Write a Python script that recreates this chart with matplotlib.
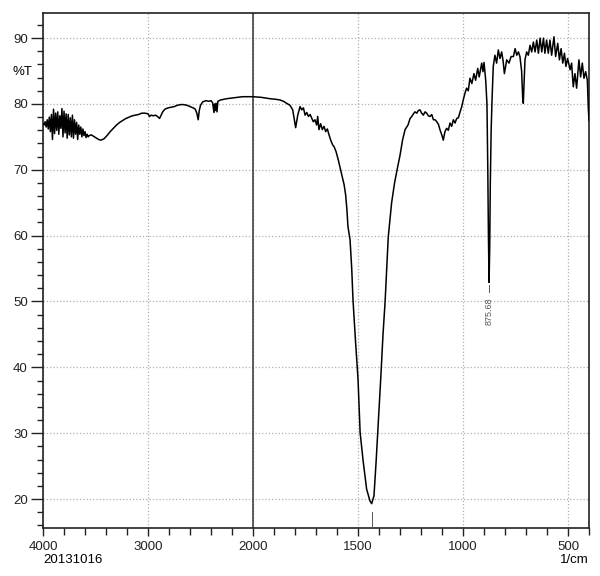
import numpy as np
import matplotlib
matplotlib.use("Agg")
import matplotlib.pyplot as plt
from matplotlib.ticker import FixedLocator, NullFormatter

plt.rcParams['font.family'] = ['Liberation Sans', 'DejaVu Sans']

# FTIR spectrum (wavenumber 1/cm, %T)
wavenumber = [
    4000, 3990, 3980, 3970, 3960, 3950, 3940, 3930, 3920, 3910,
    3900, 3890, 3880, 3870, 3860, 3850, 3840, 3830, 3820, 3810,
    3800, 3790, 3780, 3770, 3760, 3750, 3740, 3730, 3720, 3710,
    3700, 3690, 3680, 3670, 3660, 3650, 3640, 3630, 3620, 3610,
    3600, 3590, 3580, 3570, 3560, 3540, 3520, 3500, 3470, 3450,
    3420, 3390, 3360, 3330, 3300, 3270, 3240, 3210, 3180, 3150,
    3120, 3090, 3060, 3030, 3000, 2985, 2970, 2950, 2930, 2910,
    2890, 2875, 2860, 2840, 2810, 2780, 2750, 2720, 2690, 2660,
    2630, 2600, 2570, 2550, 2535, 2522, 2512, 2500, 2480, 2450,
    2420, 2400, 2385, 2372, 2366, 2360, 2352, 2343, 2335, 2310,
    2280, 2250, 2200, 2150, 2100, 2050, 2000, 1960, 1920, 1890,
    1871, 1855, 1840, 1824, 1811, 1797, 1787, 1776, 1768, 1760,
    1752, 1744, 1736, 1728, 1720, 1713, 1705, 1697, 1692, 1686,
    1678, 1670, 1662, 1654, 1646, 1638, 1630, 1621, 1614, 1605,
    1594, 1583, 1573, 1566, 1559, 1553, 1548, 1538, 1530, 1524,
    1512, 1500, 1490, 1475, 1459, 1443, 1435, 1424, 1414, 1406,
    1392, 1381, 1371, 1356, 1340, 1326, 1314, 1300, 1288, 1276,
    1262, 1252, 1244, 1236, 1229, 1220, 1213, 1205, 1197, 1189,
    1181, 1173, 1165, 1157, 1149, 1141, 1133, 1125, 1117, 1110,
    1100, 1094, 1086, 1078, 1070, 1062, 1054, 1046, 1038, 1030,
    1022, 1014, 1006, 999, 991, 983, 975, 967, 958, 948,
    940, 930, 923, 911, 905, 900, 892, 886, 882, 879,
    876, 873, 870, 866, 862, 856, 848, 840, 832, 824,
    816, 809, 803, 792, 781, 771, 760, 752, 744, 736,
    729, 721, 716, 713, 709, 705, 697, 689, 681, 673,
    665, 657, 649, 641, 633, 625, 617, 610, 602, 594,
    586, 578, 567, 559, 549, 541, 533, 525, 517, 510,
    502, 490, 483, 475, 467, 459, 448, 440, 432, 424,
    416, 408, 403, 400,
]
transmittance = [
    77.0, 76.8, 77.3, 76.5, 77.6, 76.2, 78.0, 75.8, 78.4, 74.6,
    79.2, 75.5, 78.6, 76.0, 78.8, 75.4, 78.2, 76.3, 79.3, 75.0,
    78.9, 75.6, 78.5, 74.8, 78.4, 75.3, 77.9, 75.0, 78.3, 74.8,
    77.6, 75.4, 77.2, 74.6, 76.8, 75.4, 76.5, 75.0, 76.2, 75.2,
    75.8, 74.9, 75.4, 75.0, 75.2, 75.3, 75.1, 74.9, 74.6, 74.5,
    74.7, 75.2, 75.8, 76.3, 76.8, 77.2, 77.5, 77.8, 78.0, 78.2,
    78.3, 78.4, 78.6, 78.6, 78.5, 78.1, 78.3, 78.2, 78.3, 78.1,
    77.8, 78.3, 78.8, 79.2, 79.4, 79.5, 79.6, 79.8, 79.9, 79.9,
    79.8, 79.6, 79.4, 79.2, 78.6, 77.6, 79.0, 79.8, 80.3, 80.5,
    80.4, 80.5, 80.2, 78.7, 80.0, 79.0, 80.1, 78.8, 80.4, 80.6,
    80.7, 80.8, 80.9, 81.0, 81.1, 81.1, 81.1, 81.0, 80.8, 80.7,
    80.6, 80.4, 80.1, 79.8, 79.1, 76.4, 78.3, 79.6, 79.1, 79.4,
    78.3, 78.7, 78.1, 78.4, 77.8, 77.3, 77.6, 76.8, 78.1, 76.1,
    77.0, 76.1, 76.6, 75.8, 76.2, 75.3, 74.5, 73.8, 73.5, 72.8,
    71.5, 70.0, 68.7, 67.7, 66.2, 64.0, 61.4, 59.4, 55.0, 50.3,
    44.0, 38.2, 30.1, 25.6, 21.5, 19.7, 19.3, 20.5, 25.6, 30.1,
    38.2, 45.0, 50.0, 59.8, 65.0, 68.0, 70.0, 72.2, 74.5, 76.1,
    76.8, 77.8, 78.1, 78.5, 78.8, 78.6, 79.0, 79.1, 78.6, 78.3,
    78.8, 78.6, 78.2, 78.1, 78.4, 77.6, 77.6, 77.3, 76.9, 76.1,
    75.2, 74.5, 75.8, 76.3, 76.0, 77.1, 76.6, 77.6, 77.1, 77.8,
    77.9, 78.8, 79.6, 80.6, 81.6, 82.4, 82.0, 83.9, 83.1, 84.6,
    83.6, 85.4, 84.1, 86.2, 84.9, 86.3, 83.6, 80.0, 70.0, 60.0,
    52.9, 58.0, 68.0, 76.0, 80.5, 85.7, 87.4, 86.2, 88.2, 86.9,
    87.9, 86.5, 84.6, 86.7, 86.2, 87.2, 87.2, 88.4, 87.4, 87.9,
    87.2, 85.0, 81.0, 80.1, 83.5, 86.7, 87.9, 87.4, 88.9, 87.9,
    89.4, 87.9, 89.7, 87.7, 90.0, 87.9, 90.0, 87.7, 89.7, 87.7,
    89.7, 87.4, 90.2, 87.2, 89.2, 86.7, 88.4, 86.2, 87.7, 85.7,
    86.9, 85.2, 86.2, 82.6, 84.6, 82.4, 86.7, 84.1, 86.2, 83.9,
    84.9, 83.6, 79.1, 77.5,
]

# picked peaks (only the 875 one has a visible label)
peak_wn = [1433.0, 875.68]
peak_t = [19.3, 52.9]
peak_labels = ["", "875.68"]

major_x = [4000, 3000, 2000, 1500, 1000, 500]


# instrument style axis: 4000-2000 compressed by half
def fwd(x):
    x = np.asarray(x, dtype=float)
    return np.where(x > 2000, 2000 + (x - 2000) / 2.0, x)


def inv(y):
    y = np.asarray(y, dtype=float)
    return np.where(y > 2000, 2000 + (y - 2000) * 2.0, y)


fig = plt.figure(figsize=(6, 5.76), dpi=100)
ax = fig.add_axes([0.0717, 0.0833, 0.91, 0.894])
ax.set_xscale('function', functions=(fwd, inv))
ax.set_xlim(4000, 400)
ax.set_ylim(15.6, 93.8)

ax.plot(wavenumber, transmittance, color='black', lw=1.1, zorder=3)

ax.axvline(2000, color='#333333', lw=1.1, zorder=2)

for wn, t, lab in zip(peak_wn, peak_t, peak_labels):
    if lab:
        ax.plot([wn, wn], [t - 0.4, t - 1.5], color='#555555', lw=0.7, zorder=3)
        ax.text(wn, t - 2.2, lab, rotation=90, ha='center', va='top',
                fontsize=6.5, color='#555555')
    else:
        ax.plot([wn, wn], [t - 1.2, 14], color='#555555', lw=0.7, zorder=3,
                clip_on=True)

ax.xaxis.set_major_locator(FixedLocator(major_x))
ax.xaxis.set_minor_locator(FixedLocator(
    list(np.arange(4000, 2000, -200)) + list(np.arange(2000, 399, -100))))
ax.xaxis.set_minor_formatter(NullFormatter())
ax.set_xticklabels([str(v) for v in major_x])
ax.yaxis.set_major_locator(FixedLocator(np.arange(20, 91, 10)))
ax.yaxis.set_minor_locator(FixedLocator(np.arange(16, 93, 2)))

ax.grid(True, which='major', linestyle=':', color='#b0b0b0', lw=0.9, zorder=0)

ax.tick_params(axis='x', which='major', length=6, width=1.0, pad=3, labelsize=9.5)
ax.tick_params(axis='x', which='minor', length=5, width=1.0)
ax.tick_params(axis='y', which='major', length=9, width=1.0, pad=2, labelsize=9.5)
ax.tick_params(axis='y', which='minor', length=4, width=1.0)
ax.tick_params(top=False, right=False, which='both', colors='#222222')

for s in ax.spines.values():
    s.set_linewidth(1.2)
    s.set_color('#222222')

ax.text(-0.038, 0.885, "%T", transform=ax.transAxes, ha='center', va='center',
        fontsize=9.5)
ax.text(0.0, -0.062, "20131016", transform=ax.transAxes, ha='left', va='center',
        fontsize=9.5)
ax.text(1.0, -0.062, "1/cm", transform=ax.transAxes, ha='right', va='center',
        fontsize=9.5)

fig.savefig("out.png", dpi=100, facecolor='white')
